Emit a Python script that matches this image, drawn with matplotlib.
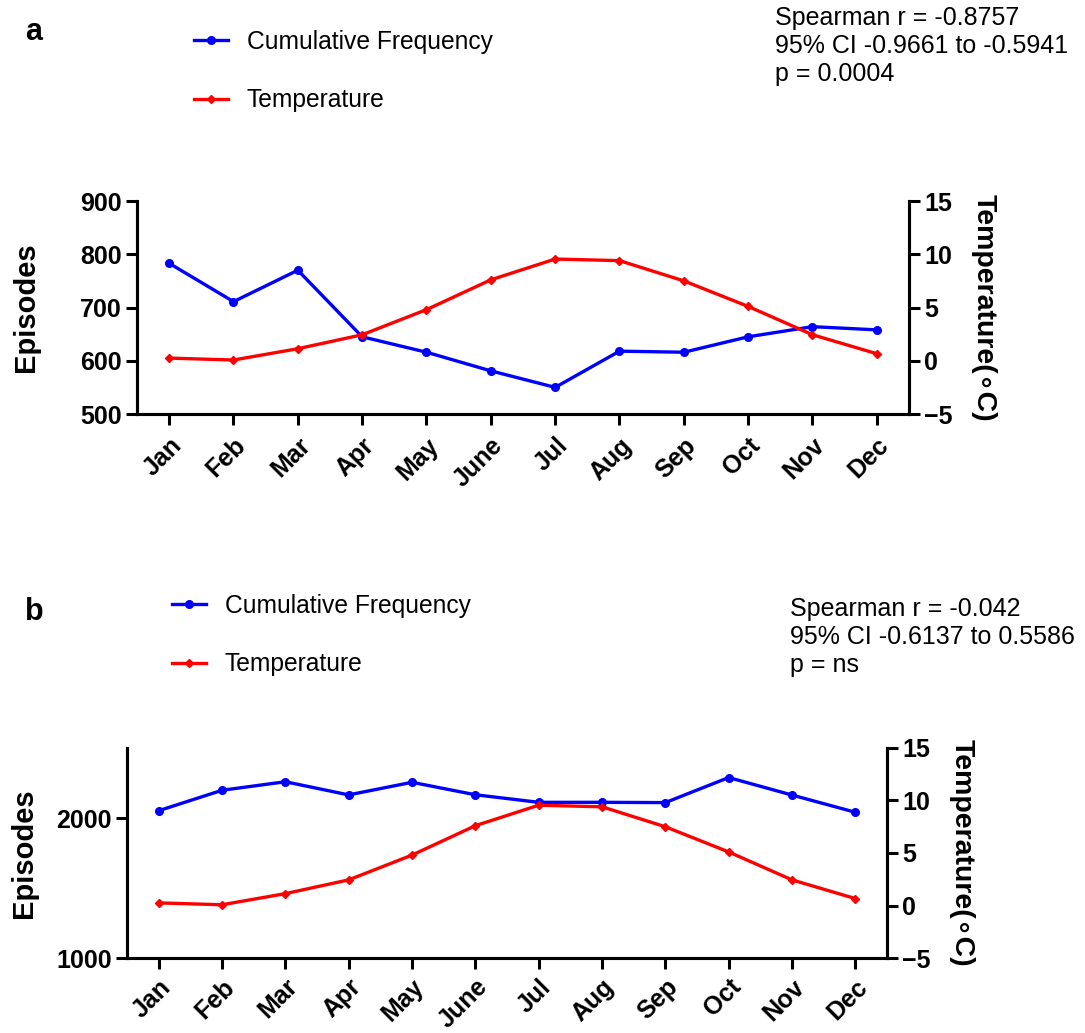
import numpy as np
import matplotlib
matplotlib.use('Agg')
import matplotlib.pyplot as plt

plt.rcParams['font.family'] = ['Liberation Sans', 'DejaVu Sans']

months = ['Jan', 'Feb', 'Mar', 'Apr', 'May', 'June', 'Jul', 'Aug', 'Sep', 'Oct', 'Nov', 'Dec']
freq_a = [783, 711, 770, 645, 616, 581, 550, 618, 616, 645, 664, 658]
freq_b = [2052, 2198, 2259, 2165, 2255, 2166, 2112, 2112, 2110, 2289, 2164, 2041]
temp = [0.25, 0.07, 1.13, 2.44, 4.8, 7.6, 9.55, 9.4, 7.5, 5.1, 2.44, 0.66]

stats_a = 'Spearman r = -0.8757\n95% CI -0.9661 to -0.5941\np = 0.0004'
stats_b = 'Spearman r = -0.042\n95% CI -0.6137 to 0.5586\np = ns'

W, H = 1085, 1033
fig = plt.figure(figsize=(W / 100, H / 100), dpi=100)

def panel(rect, freq, ylim, yticks, ylabpad, xpad):
    ax = fig.add_axes(rect)
    x = np.arange(len(months))
    ax.plot(x, freq, color='#0000ff', lw=2.4, marker='o', ms=5.5, label='Cumulative Frequency')
    ax2 = ax.twinx()
    ax2.plot(x, temp, color='#ff0000', lw=2.4, marker='D', ms=4.5, label='Temperature')
    ax.set_xlim(-0.5, 11.5)
    ax.set_ylim(*ylim)
    ax.set_yticks(yticks)
    ax2.set_ylim(-5, 15)
    ax2.set_yticks([-5, 0, 5, 10, 15])
    ax.set_xticks(x)
    ax.set_xticklabels(months, rotation=45, ha='right', rotation_mode='anchor')
    for a in (ax, ax2):
        a.spines['top'].set_visible(False)
        for s in ('left', 'right', 'bottom'):
            a.spines[s].set_linewidth(2.2)
        a.tick_params(width=2.2, length=8, labelsize=18, pad=3)
        for lab in a.get_xticklabels() + a.get_yticklabels():
            lab.set_fontweight('bold')
    ax.tick_params(axis='x', pad=xpad)
    ax.set_ylabel('Episodes', fontsize=21, fontweight='bold', labelpad=ylabpad)
    ax2.set_ylabel('Temperature(\u2218C)', fontsize=20.5, fontweight='bold', rotation=270,
                   va='bottom', labelpad=13)
    return ax, ax2

ax_a, ax2_a = panel([137 / W, 1 - 414 / H, 772 / W, 213 / H], freq_a, (500, 900),
                    [500, 600, 700, 800, 900], 29, 6)
ax_b, ax2_b = panel([127 / W, 1 - 958 / H, 760 / W, 210 / H], freq_b, (1000, 2500),
                    [1000, 2000], 13, 4)

def legend(x0, y0, ax, ax2):
    handles = [ax.get_lines()[0], ax2.get_lines()[0]]
    fig.legend(handles, [h.get_label() for h in handles], loc='upper left',
               bbox_to_anchor=(x0 / W, 1 - y0 / H), frameon=False, fontsize=17.7,
               handlelength=1.38, handletextpad=0.77, labelspacing=1.4,
               borderpad=0, borderaxespad=0)

legend(194, 30, ax_a, ax2_a)
legend(172, 594, ax_b, ax2_b)

fig.text(775 / W, 1 - 6 / H, stats_a, fontsize=18, va='top', ha='left', linespacing=1.22)
fig.text(790 / W, 1 - 597 / H, stats_b, fontsize=18, va='top', ha='left', linespacing=1.22)

fig.text(25 / W, 1 - 32 / H, 'a', fontsize=22, fontweight='bold', va='center')
fig.text(25 / W, 1 - 612 / H, 'b', fontsize=22, fontweight='bold', va='center')

fig.savefig('out.png', dpi=100)
